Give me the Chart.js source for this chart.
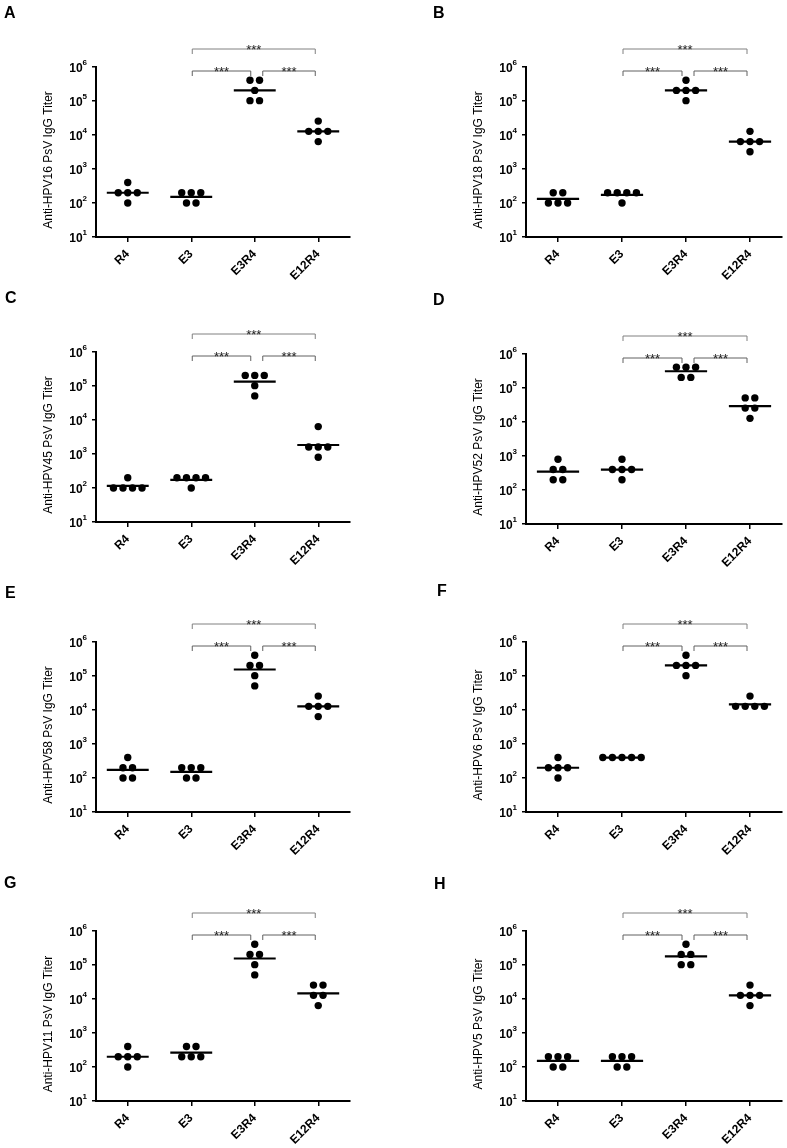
<!DOCTYPE html>
<html>
<head>
<meta charset="utf-8">
<script src="https://cdn.jsdelivr.net/npm/chart.js@4.4.0/dist/chart.umd.min.js"></script>
<style>
  body { margin: 0; background: #fff; width: 787px; height: 1148px; position: relative; overflow: hidden; }
  canvas { position: absolute; }
  .letter { position: absolute; font: bold 16px "Liberation Sans", Arial, sans-serif; color: #000; line-height: 18px; }
</style>
</head>
<body>
<script>
const FONT = '"Liberation Sans", Arial, sans-serif';

const categories = ['R4', 'E3', 'E3R4', 'E12R4'];
const panelLetters = ['A', 'B', 'C', 'D', 'E', 'F', 'G', 'H'];
const yTitles = [
  'Anti-HPV16 PsV IgG Titer', 'Anti-HPV18 PsV IgG Titer',
  'Anti-HPV45 PsV IgG Titer', 'Anti-HPV52 PsV IgG Titer',
  'Anti-HPV58 PsV IgG Titer', 'Anti-HPV6 PsV IgG Titer',
  'Anti-HPV11 PsV IgG Titer', 'Anti-HPV5 PsV IgG Titer'
];
const yTickValues = [10, 100, 1000, 10000, 100000, 1000000];
const sigLabel = '***';

// titers per group: R4, E3, E3R4, E12R4
const hpv16 = [[400, 200, 200, 200, 100], [200, 200, 200, 100, 100], [409600, 409600, 204800, 102400, 102400], [25600, 12800, 12800, 12800, 6400]];
const hpv18 = [[200, 200, 100, 100, 100], [200, 200, 200, 200, 100], [409600, 204800, 204800, 204800, 102400], [12800, 6400, 6400, 6400, 3200]];
const hpv45 = [[200, 100, 100, 100, 100], [200, 200, 200, 200, 100], [204800, 204800, 204800, 102400, 51200], [6400, 1600, 1600, 1600, 800]];
const hpv52 = [[800, 400, 400, 200, 200], [800, 400, 400, 400, 200], [409600, 409600, 409600, 204800, 204800], [51200, 51200, 25600, 25600, 12800]];
const hpv58 = [[400, 200, 200, 100, 100], [200, 200, 200, 100, 100], [409600, 204800, 204800, 102400, 51200], [25600, 12800, 12800, 12800, 6400]];
const hpv6 = [[400, 200, 200, 200, 100], [400, 400, 400, 400, 400], [409600, 204800, 204800, 204800, 102400], [25600, 12800, 12800, 12800, 12800]];
const hpv11 = [[400, 200, 200, 200, 100], [400, 400, 200, 200, 200], [409600, 204800, 204800, 102400, 51200], [25600, 25600, 12800, 12800, 6400]];
const hpv5 = [[200, 200, 200, 100, 100], [200, 200, 200, 100, 100], [409600, 204800, 204800, 102400, 102400], [25600, 12800, 12800, 12800, 6400]];
const panelData = [hpv16, hpv18, hpv45, hpv52, hpv58, hpv6, hpv11, hpv5];

// layout
const rowTops = [0, 285, 570, 855];
const rowHeights = [285, 285, 285, 293];
const plotTops = [67, 67, 67, 69, 72, 72, 76, 76];
const plotH = 170;
const letterPos = [[4, 4], [433, 4], [5, 289], [433, 291], [5, 584], [437, 582], [4, 874], [434, 875]];
const dotSpacing = 0.15;
const lineHalf = 0.33;

function spread(values, i) {
  const counts = {}, seen = {};
  values.forEach(v => counts[v] = (counts[v] || 0) + 1);
  return values.map(v => {
    seen[v] = seen[v] === undefined ? 0 : seen[v] + 1;
    return {x: i + (seen[v] - (counts[v] - 1) / 2) * dotSpacing, y: v};
  });
}

function geoMean(values) {
  return Math.exp(values.reduce((s, v) => s + Math.log(v), 0) / values.length);
}

function bracket(ctx, x1, x2, yb, color) {
  ctx.strokeStyle = color;
  ctx.lineWidth = 1;
  ctx.beginPath();
  ctx.moveTo(x1, yb + 5);
  ctx.lineTo(x1, yb);
  ctx.lineTo(x2, yb);
  ctx.lineTo(x2, yb + 5);
  ctx.stroke();
  ctx.font = '13px ' + FONT;
  ctx.fillStyle = '#222';
  ctx.textAlign = 'center';
  ctx.textBaseline = 'alphabetic';
  ctx.fillText(sigLabel, (x1 + x2) / 2, yb + 5);
}

const annotate = {
  id: 'annotate',
  afterDraw(chart, args, opts) {
    const {ctx, chartArea: a, scales: {x, y}} = chart;
    ctx.save();
    ctx.fillStyle = '#000';
    ctx.textBaseline = 'middle';
    ctx.textAlign = 'right';
    yTickValues.forEach(v => {
      const py = y.getPixelForValue(v);
      const exp = String(Math.round(Math.log10(v)));
      ctx.font = 'bold 8px ' + FONT;
      const ew = ctx.measureText(exp).width;
      ctx.fillText(exp, a.left - 9, py - 4);
      ctx.font = 'bold 12px ' + FONT;
      ctx.fillText('10', a.left - 9 - ew, py + 2);
    });
    // brackets
    const x1 = x.getPixelForValue(1), x2 = x.getPixelForValue(2), x3 = x.getPixelForValue(3);
    bracket(ctx, x1 + 1, x3 - 3, a.top - 18, '#808080');
    bracket(ctx, x1 + 1, x2 - 4, a.top + 4, '#606060');
    bracket(ctx, x2 + 8, x3 - 3, a.top + 4, '#606060');
    // y title
    ctx.translate(a.left - 47, (a.top + a.bottom) / 2 + 8);
    ctx.rotate(-Math.PI / 2);
    ctx.font = '12px ' + FONT;
    ctx.fillStyle = '#000';
    ctx.textAlign = 'center';
    ctx.textBaseline = 'middle';
    ctx.fillText(opts.title, 0, 0);
    ctx.restore();
  }
};

panelData.forEach((groups, p) => {
  const col = p % 2, row = Math.floor(p / 2);
  const w = col ? 394 : 393;
  const h = rowHeights[row];
  const canvas = document.createElement('canvas');
  canvas.width = w;
  canvas.height = h;
  canvas.style.left = (col ? 393 : 0) + 'px';
  canvas.style.top = rowTops[row] + 'px';
  document.body.appendChild(canvas);

  const letter = document.createElement('div');
  letter.className = 'letter';
  letter.textContent = panelLetters[p];
  letter.style.left = letterPos[p][0] + 'px';
  letter.style.top = letterPos[p][1] + 'px';
  document.body.appendChild(letter);

  const yW = col ? 133 : 96;
  const padRight = col ? 5 : 43;
  const xH = h - plotTops[p] - plotH;

  const points = [];
  const meanLine = [];
  groups.forEach((vals, i) => {
    points.push(...spread(vals, i));
    const m = geoMean(vals);
    meanLine.push({x: i - lineHalf, y: m}, {x: i + lineHalf, y: m}, {x: i + 0.5, y: null});
  });

  new Chart(canvas, {
    type: 'scatter',
    data: {
      datasets: [
        {type: 'line', data: meanLine, borderColor: '#000', borderWidth: 2.2, pointRadius: 0, spanGaps: false, clip: false},
        {data: points, backgroundColor: '#000', borderColor: '#000', borderWidth: 0, pointRadius: 3.7, clip: false}
      ]
    },
    options: {
      responsive: false,
      animation: false,
      devicePixelRatio: 1,
      layout: {padding: {top: plotTops[p], right: padRight, left: 0, bottom: 0}},
      plugins: {legend: {display: false}, tooltip: {enabled: false}, annotate: {title: yTitles[p]}},
      scales: {
        x: {
          type: 'linear', min: -0.5, max: 3.5,
          afterBuildTicks: s => { s.ticks = categories.map((c, i) => ({value: i})); },
          afterFit: s => { s.height = xH; },
          ticks: {
            callback: v => categories[v], minRotation: 45, maxRotation: 45, autoSkip: false,
            color: '#000', font: {family: FONT, size: 12, weight: 'bold'}, padding: 5
          },
          grid: {drawOnChartArea: false, tickLength: 5, color: '#000', lineWidth: 1.5},
          border: {color: '#000', width: 2}
        },
        y: {
          type: 'logarithmic', min: 10, max: 1000000,
          afterBuildTicks: s => { s.ticks = yTickValues.map(v => ({value: v})); },
          afterFit: s => { s.width = yW; },
          ticks: {display: false},
          grid: {drawOnChartArea: false, tickLength: 4, color: '#000', lineWidth: 1.5},
          border: {color: '#000', width: 2}
        }
      }
    },
    plugins: [annotate]
  });
});
</script>
</body>
</html>
